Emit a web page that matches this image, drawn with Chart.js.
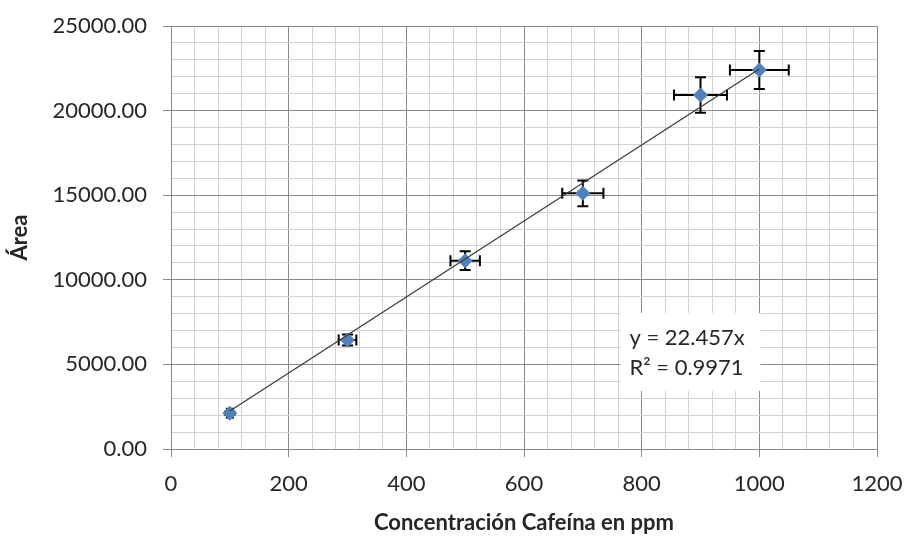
<!DOCTYPE html>
<html>
<head>
<meta charset="utf-8">
<script src="https://cdn.jsdelivr.net/npm/chart.js@4.4.1/dist/chart.umd.min.js"></script>
<style>
  html, body { margin: 0; padding: 0; background: #fff; }
  #wrap { width: 908px; height: 540px; }
</style>
</head>
<body>
<div id="wrap"><canvas id="chart" width="908" height="540"></canvas></div>
<script>
// valores
const concentraciones = [100, 300, 500, 700, 900, 1000];
const areas = [2110, 6440, 11130, 15110, 20920, 22400];
const errorX = [5, 15, 25, 35, 45, 50];
const errorY = [106, 322, 557, 756, 1046, 1120];

// línea de tendencia y = 22.457x
const tendenciaX = [100, 1000];
const tendenciaY = [2245.7, 22457];
const ecuacion = ['y = 22.457x', 'R² = 0.9971'];

const FONT = 'Lato, "Open Sans", sans-serif';
const MAJOR = '#8a8a8a';
const MINOR = '#d2d2d2';

// barras de error (x e y) dibujadas con las escalas del gráfico
const errorBars = {
  id: 'errorBars',
  beforeDatasetsDraw(chart) {
    const { ctx, scales: { x, y } } = chart;
    const cap = 5.5;
    ctx.save();
    ctx.strokeStyle = '#000';
    ctx.lineWidth = 2;
    concentraciones.forEach((cx, i) => {
      const px = x.getPixelForValue(cx);
      const py = y.getPixelForValue(areas[i]);
      const x0 = x.getPixelForValue(cx - errorX[i]);
      const x1 = x.getPixelForValue(cx + errorX[i]);
      const y0 = y.getPixelForValue(areas[i] - errorY[i]);
      const y1 = y.getPixelForValue(areas[i] + errorY[i]);
      ctx.beginPath();
      ctx.moveTo(x0, py); ctx.lineTo(x1, py);
      ctx.moveTo(x0, py - cap); ctx.lineTo(x0, py + cap);
      ctx.moveTo(x1, py - cap); ctx.lineTo(x1, py + cap);
      ctx.moveTo(px, y0); ctx.lineTo(px, y1);
      ctx.moveTo(px - cap, y0); ctx.lineTo(px + cap, y0);
      ctx.moveTo(px - cap, y1); ctx.lineTo(px + cap, y1);
      ctx.stroke();
    });
    ctx.restore();
  }
};

// cuadro con la ecuación de la tendencia
const equationBox = {
  id: 'equationBox',
  afterDraw(chart) {
    const { ctx, scales: { x, y } } = chart;
    const left = x.getPixelForValue(764);
    const top = y.getPixelForValue(8040);
    ctx.save();
    ctx.fillStyle = '#fff';
    ctx.fillRect(left, top, 140, 78);
    ctx.fillStyle = '#262626';
    ctx.font = '22px ' + FONT;
    ctx.textAlign = 'left';
    ctx.textBaseline = 'middle';
    ctx.fillText(ecuacion[0], left + 9, top + 25);
    ctx.fillText(ecuacion[1], left + 9, top + 55);
    ctx.restore();
  }
};

const isMajorX = v => v % 200 === 0;
const isMajorY = v => v % 5000 === 0;

new Chart(document.getElementById('chart'), {
  type: 'scatter',
  data: {
    datasets: [
      {
        type: 'line',
        label: 'Tendencia',
        data: tendenciaX.map((v, i) => ({ x: v, y: tendenciaY[i] })),
        borderColor: '#3c3c3c',
        borderWidth: 1.3,
        pointRadius: 0,
        fill: false
      },
      {
        label: 'Área',
        data: concentraciones.map((v, i) => ({ x: v, y: areas[i] })),
        pointStyle: 'rectRot',
        pointRadius: 7.5,
        backgroundColor: '#4f81bd',
        borderColor: '#4f81bd',
        borderWidth: 0
      }
    ]
  },
  options: {
    responsive: false,
    animation: false,
    layout: { padding: { top: 26, right: 31, left: 0, bottom: 0 } },
    plugins: {
      legend: { display: false },
      tooltip: { enabled: false }
    },
    scales: {
      x: {
        type: 'linear',
        min: 0,
        max: 1200,
        afterFit: s => { s.height = 91; s.paddingLeft = 0; s.paddingRight = 0; },
        ticks: {
          stepSize: 40,
          autoSkip: false,
          maxRotation: 0,
          padding: 14,
          color: '#262626',
          font: { family: FONT, size: 22 },
          callback: v => isMajorX(v) ? v : ''
        },
        grid: {
          color: c => isMajorX(c.tick.value) ? MAJOR : MINOR,
          tickColor: c => isMajorX(c.tick.value) ? MAJOR : 'rgba(0,0,0,0)',
          tickLength: 8
        },
        border: { color: MAJOR },
        title: {
          display: true,
          text: 'Concentración Cafeína en ppm',
          color: '#262626',
          font: { family: FONT, size: 22, weight: 'bold' },
          padding: { top: 0, bottom: 4 }
        }
      },
      y: {
        min: 0,
        max: 25000,
        afterFit: s => { s.width = 171; s.paddingTop = 0; s.paddingBottom = 0; },
        ticks: {
          stepSize: 1000,
          autoSkip: false,
          padding: 16,
          color: '#262626',
          font: { family: FONT, size: 22 },
          callback: v => isMajorY(v) ? v.toFixed(2) : ''
        },
        grid: {
          color: c => isMajorY(c.tick.value) ? MAJOR : MINOR,
          tickColor: c => isMajorY(c.tick.value) ? MAJOR : 'rgba(0,0,0,0)',
          tickLength: 8
        },
        border: { color: MAJOR },
        title: {
          display: true,
          text: 'Área',
          color: '#262626',
          font: { family: FONT, size: 22, weight: 'bold' },
          padding: { top: 7, bottom: 0 }
        }
      }
    }
  },
  plugins: [errorBars, equationBox]
});
</script>
</body>
</html>
